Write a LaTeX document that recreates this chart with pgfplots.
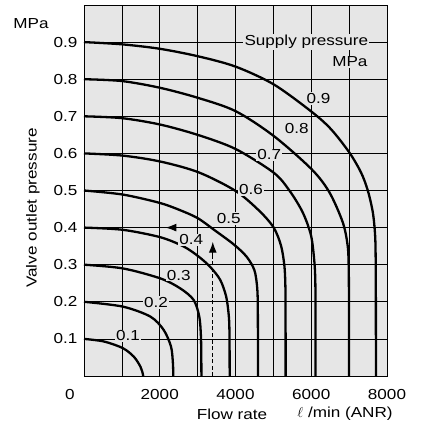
\documentclass[border=0pt]{standalone}
\usepackage{fontspec}
\setmainfont{Liberation Sans}[FakeStretch=1.18]
\usepackage{pgfplots}
\pgfplotsset{compat=1.18}
\usetikzlibrary{arrows.meta}
\definecolor{bg}{RGB}{230,230,230}
\tikzset{lbl/.style={fill=bg, inner sep=1.2pt, font=\fontsize{14.5}{16}\selectfont}}
\begin{document}
\begin{tikzpicture}[font=\fontsize{14.5}{16}\selectfont]
\begin{axis}[
  scale only axis, width=303pt, height=371pt,
  xmin=0, xmax=8000, ymin=0, ymax=1,
  axis background/.style={fill=bg},
  xtick={0,1000,2000,3000,4000,5000,6000,7000,8000},
  xticklabels={{},{},2000,{},4000,{},6000,{},8000},
  ytick={0,0.1,0.2,0.3,0.4,0.5,0.6,0.7,0.8,0.9,1},
  yticklabels={{},0.1,0.2,0.3,0.4,0.5,0.6,0.7,0.8,0.9,{}},
  grid=major, grid style={black, line width=0.7pt},
  major tick length=0pt,
  axis line style={line width=0.9pt},
  tick label style={font=\fontsize{14.5}{16}\selectfont},
  xticklabel style={yshift=-10pt},
  yticklabel style={xshift=-3pt},
  /pgf/number format/assume math mode=true,
  clip=false,
  every axis plot/.append style={line width=2.3pt, smooth, tension=0.5},
]
\addplot[black] coordinates {(0,0.1)(526,0.093)(1026,0.075)(1316,0.052)(1491,0.025)(1558,0.004)(1562,0)};
\addplot[black] coordinates {(0,0.2)(1026,0.187)(1754,0.16)(2105,0.124)(2298,0.079)(2348,0.034)(2356,0)};
\addplot[black] coordinates {(0,0.3)(1026,0.29)(2018,0.263)(2544,0.236)(2895,0.205)(3044,0.16)(3088,0.106)(3098,0.04)(3100,0)};
\addplot[black] coordinates {(0,0.4)(1026,0.394)(2018,0.374)(2632,0.349)(3026,0.322)(3333,0.294)(3597,0.259)(3754,0.214)(3825,0.16)(3842,0.106)(3846,0)};
\addplot[black] coordinates {(0,0.5)(1026,0.489)(2018,0.466)(2632,0.443)(3026,0.424)(3421,0.395)(3950,0.355)(4290,0.322)(4500,0.285)(4575,0.235)(4590,0.17)(4593,0)};
\addplot[black] coordinates {(0,0.6)(1026,0.594)(2018,0.578)(3026,0.549)(4000,0.499)(4630,0.445)(5009,0.4)(5203,0.351)(5291,0.297)(5317,0.243)(5322,0.17)(5324,0)};
\addplot[black] coordinates {(0,0.7)(1000,0.695)(2000,0.678)(3000,0.65)(4000,0.612)(5009,0.548)(5423,0.5)(5775,0.441)(5996,0.378)(6084,0.306)(6108,0.252)(6112,0.17)(6114,0)};
\addplot[black] coordinates {(0,0.8)(1000,0.795)(2000,0.777)(3000,0.75)(4000,0.714)(5009,0.647)(6013,0.557)(6480,0.495)(6833,0.414)(6962,0.351)(6990,0.288)(6995,0.2)(6997,0)};
\addplot[black] coordinates {(0,0.9)(1000,0.894)(2000,0.882)(3000,0.862)(4000,0.834)(5009,0.786)(6013,0.712)(6524,0.665)(7009,0.602)(7317,0.548)(7493,0.5)(7626,0.441)(7687,0.378)(7702,0.306)(7706,0.2)(7708,0)};
% dashed guide lines
\addplot[black, line width=1.2pt, dash pattern=on 4pt off 2.5pt, sharp plot] coordinates {(3400,0)(3400,0.325)};
\addplot[black, line width=1.2pt, sharp plot, -{Latex[length=11pt,width=8pt]}] coordinates {(3400,0.325)(3400,0.362)};
\addplot[black, line width=1.2pt, dash pattern=on 4pt off 2.5pt, sharp plot] coordinates {(3400,0.4)(2450,0.4)};
\addplot[black, line width=1.2pt, sharp plot, -{Latex[length=11pt,width=8pt]}] coordinates {(2450,0.4)(2150,0.4)};
\addplot[black, line width=1.2pt, dash pattern=on 4pt off 2.5pt, sharp plot] coordinates {(2150,0.4)(0,0.4)};
% curve labels
\node[lbl] at (axis cs:1160,0.108) {0.1};
\node[lbl] at (axis cs:1900,0.198) {0.2};
\node[lbl] at (axis cs:2500,0.272) {0.3};
\node[lbl] at (axis cs:2830,0.367) {0.4};
\node[lbl] at (axis cs:3820,0.425) {0.5};
\node[lbl] at (axis cs:4410,0.503) {0.6};
\node[lbl] at (axis cs:4890,0.596) {0.7};
\node[lbl] at (axis cs:5620,0.666) {0.8};
\node[lbl] at (axis cs:6190,0.748) {0.9};
\node[lbl] at (axis cs:5870,0.901) {Supply pressure};
\node[lbl] at (axis cs:7020,0.847) {MPa};
% outside texts
\node at ([xshift=-53pt,yshift=-19pt]rel axis cs:0,1) {MPa};
\node at ([xshift=-14pt,yshift=-19pt]rel axis cs:0,0) {0};
\node[rotate=90] at ([xshift=-51pt]rel axis cs:0,0.453) {Valve outlet pressure};
\node at ([xshift=148pt,yshift=-38pt]rel axis cs:0,0) {Flow rate};
\node at ([xshift=261pt,yshift=-38pt]rel axis cs:0,0) {$\ell$ /min (ANR)};
\end{axis}
\path (current axis.south west) ++(-84pt,-52pt);
\path (current axis.north east) ++(35pt,5pt);
\end{tikzpicture}
\end{document}
